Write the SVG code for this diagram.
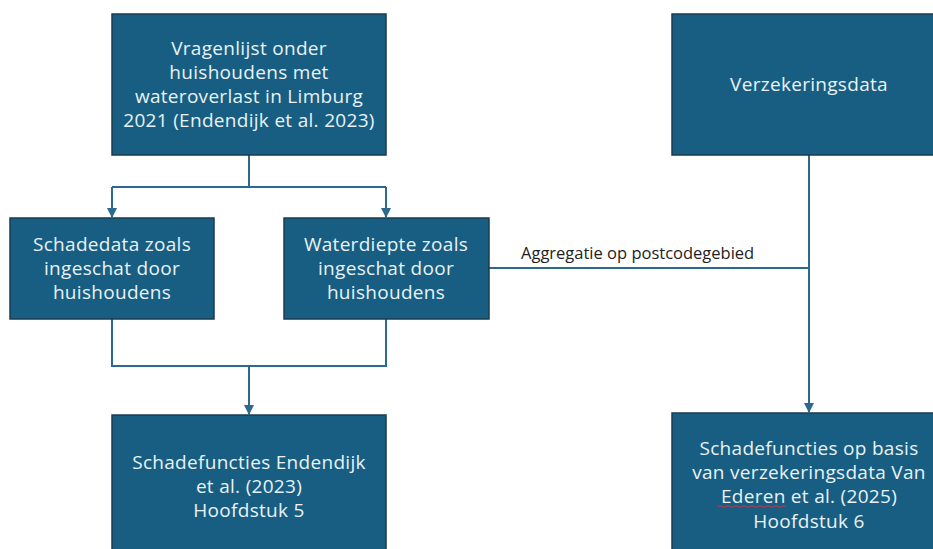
<svg xmlns="http://www.w3.org/2000/svg" width="933" height="549" viewBox="0 0 933 549">
<style>
.box{fill:#175e82;stroke:#1a3d52;stroke-width:1.5}
.t{font-family:"Open Sans","Liberation Sans",sans-serif;font-size:19px;letter-spacing:0.3px;fill:#e9f2f6;text-anchor:middle}
.c{fill:none;stroke:#2b6a8c;stroke-width:2}
.lbl{font-family:"Open Sans","Liberation Sans",sans-serif;font-size:16.5px;fill:#222}
</style>
<defs>
<marker id="arr" viewBox="0 0 10 10" refX="9" refY="5" markerWidth="5" markerHeight="5" orient="auto"><path d="M0,0L10,5L0,10z" fill="#2b6a8c"/></marker>
</defs>
<rect width="933" height="549" fill="#fff"/>
<g id="connectors">
<path class="c" d="M249,155V187"/>
<path class="c" d="M112,187H386"/>
<path class="c" d="M112,187V217" marker-end="url(#arr)"/>
<path class="c" d="M386,187V217" marker-end="url(#arr)"/>
<path class="c" d="M112,319V366H386V319"/>
<path class="c" d="M249,366V414" marker-end="url(#arr)"/>
<path class="c" d="M809,155V412" marker-end="url(#arr)"/>
<path class="c" d="M489,268H809"/>
<text class="lbl" x="521" y="259">Aggregatie op postcodegebied</text>
</g>
<g id="n1">
<rect class="box" x="112" y="14" width="274" height="141"/>
<text class="t" x="249" y="55">Vragenlijst onder</text>
<text class="t" x="249" y="79">huishoudens met</text>
<text class="t" x="249" y="103">wateroverlast in Limburg</text>
<text class="t" x="249" y="127">2021 (Endendijk et al. 2023)</text>
</g>
<g id="n2">
<rect class="box" x="672" y="14" width="270" height="141"/>
<text class="t" x="809" y="91">Verzekeringsdata</text>
</g>
<g id="n3">
<rect class="box" x="10" y="218" width="204" height="101"/>
<text class="t" x="112" y="251">Schadedata zoals</text>
<text class="t" x="112" y="275">ingeschat door</text>
<text class="t" x="112" y="299">huishoudens</text>
</g>
<g id="n4">
<rect class="box" x="284" y="218" width="205" height="101"/>
<text class="t" x="386" y="251">Waterdiepte zoals</text>
<text class="t" x="386" y="275">ingeschat door</text>
<text class="t" x="386" y="299">huishoudens</text>
</g>
<g id="n5">
<rect class="box" x="112" y="415" width="274" height="145"/>
<text class="t" x="249" y="469">Schadefuncties Endendijk</text>
<text class="t" x="249" y="493">et al. (2023)</text>
<text class="t" x="249" y="517">Hoofdstuk 5</text>
</g>
<g id="n6">
<rect class="box" x="672" y="413" width="270" height="147"/>
<text class="t" x="809" y="455">Schadefuncties op basis</text>
<text class="t" x="809" y="479">van verzekeringsdata Van</text>
<text class="t" x="809" y="503">Ederen et al. (2025)</text>
<text class="t" x="809" y="528">Hoofdstuk 6</text>
<path d="M718,506.5q2,-1.5 4,0t4,0t4,0t4,0t4,0t4,0t4,0t4,0t4,0t4,0t4,0t4,0t4,0t4,0t4,0t4,0t4,0" fill="none" stroke="#c0394b" stroke-width="1"/>
</g>
</svg>
